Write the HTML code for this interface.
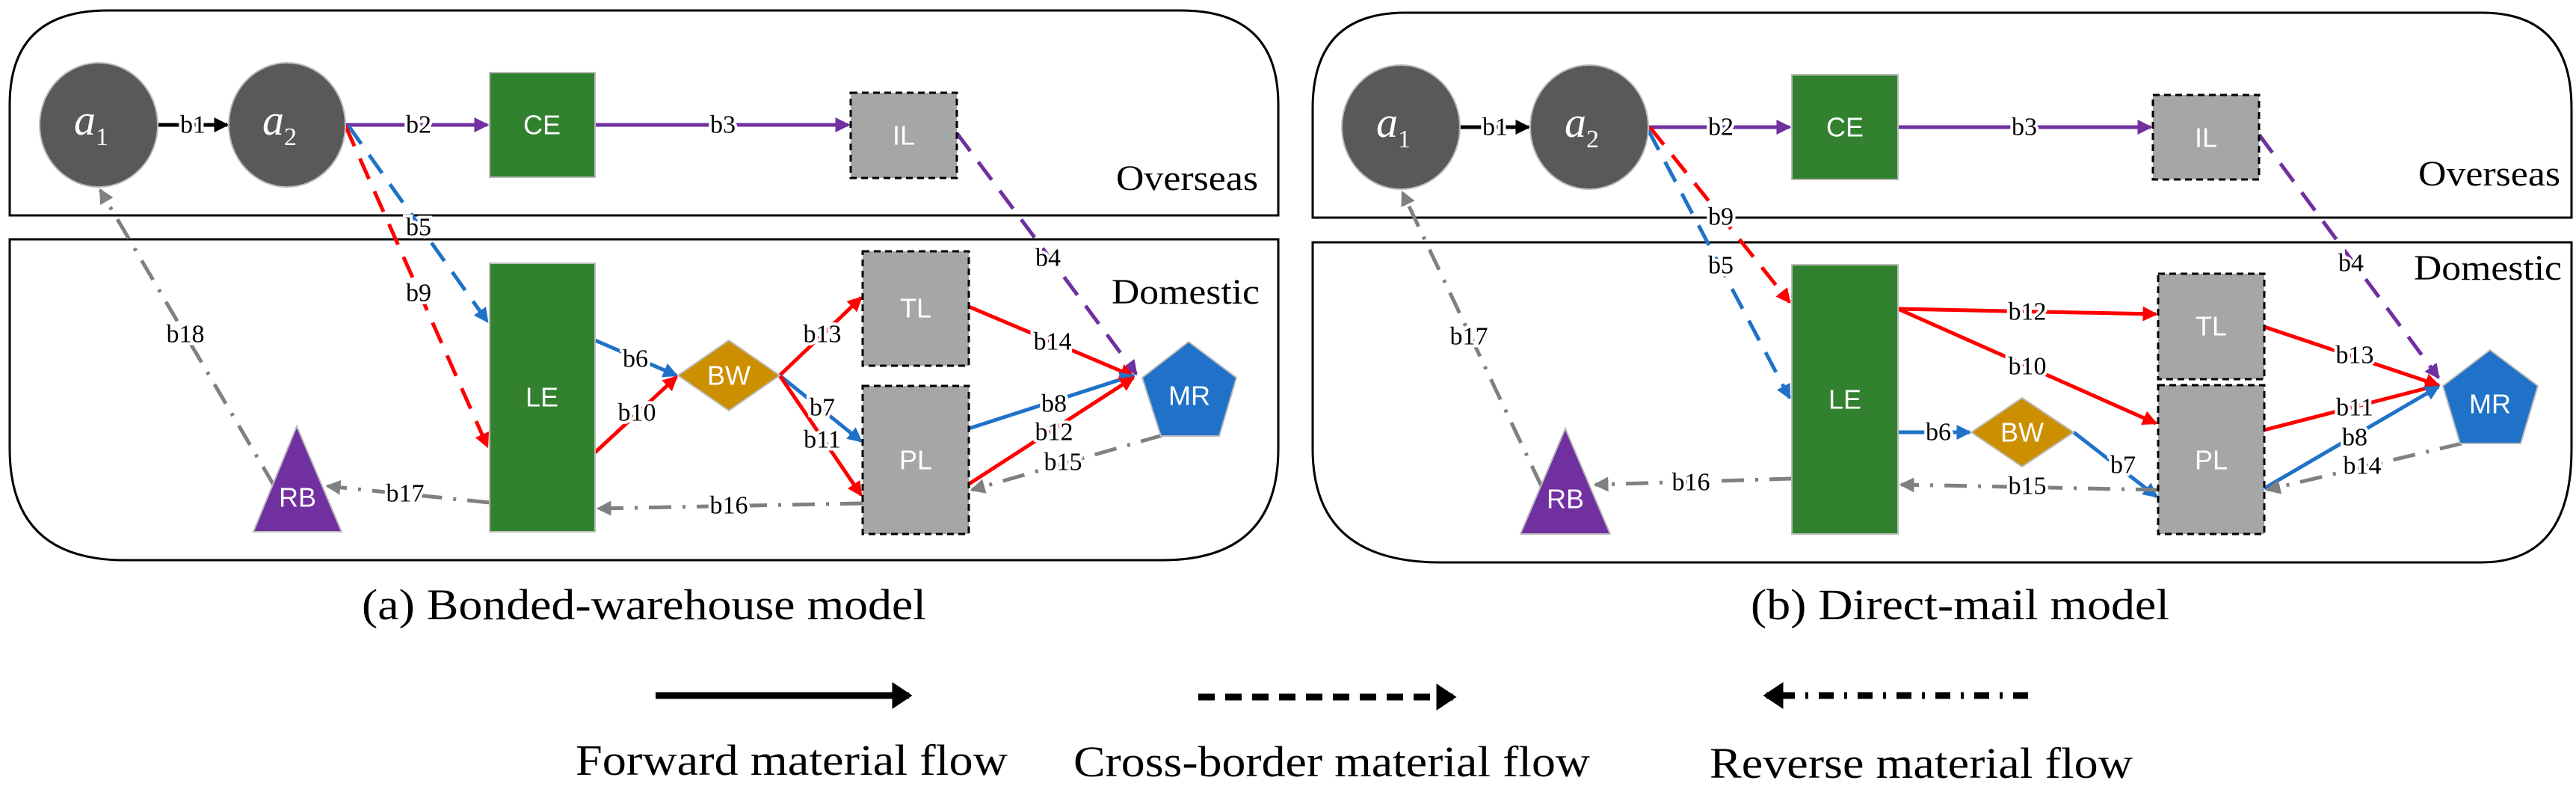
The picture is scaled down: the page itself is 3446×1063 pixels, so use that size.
<!DOCTYPE html>
<html><head><meta charset="utf-8"><style>
html,body{margin:0;padding:0;background:#fff}
svg{display:block}
.el{font-family:"Liberation Serif",serif;font-size:34px;fill:#000;stroke:#fff;stroke-width:8px;paint-order:stroke;text-anchor:middle;dominant-baseline:central}
.nl{font-family:"Liberation Sans",sans-serif;fill:#fff;text-anchor:middle;dominant-baseline:central;font-size:36px}
.big{font-family:"Liberation Serif",serif;font-size:48px;fill:#000}
.cap{font-family:"Liberation Serif",serif;font-size:58px;fill:#000}
</style></head><body>
<svg width="3446" height="1063" viewBox="0 0 3446 1063" xmlns="http://www.w3.org/2000/svg">
<defs>
<marker id="mk" markerWidth="4" markerHeight="4" refX="3.5" refY="2" orient="auto"><path d="M0,0 L4,2 L0,4 Z" fill="#000"/></marker>
<marker id="mk2" markerWidth="3" markerHeight="4" refX="2.5" refY="2" orient="auto"><path d="M0,0 L3,2 L0,4 Z" fill="#000"/></marker>
<marker id="mp" markerWidth="4" markerHeight="4" refX="3.5" refY="2" orient="auto"><path d="M0,0 L4,2 L0,4 Z" fill="#7030a0"/></marker>
<marker id="mr" markerWidth="4" markerHeight="4" refX="3.5" refY="2" orient="auto"><path d="M0,0 L4,2 L0,4 Z" fill="#ff0000"/></marker>
<marker id="mb" markerWidth="4" markerHeight="4" refX="3.5" refY="2" orient="auto"><path d="M0,0 L4,2 L0,4 Z" fill="#1f72c8"/></marker>
<marker id="mg" markerWidth="4" markerHeight="4" refX="3.5" refY="2" orient="auto"><path d="M0,0 L4,2 L0,4 Z" fill="#808080"/></marker>
</defs>

<!-- ===== LEFT PANEL ===== -->
<path d="M13,288 L13,140 Q13,14 144,14 L1580,14 Q1710,14 1710,140 L1710,288 Z" fill="none" stroke="#000" stroke-width="3"/>
<path d="M13,320 L1710,320 L1710,600 Q1710,749 1555,749 L167,749 Q13,749 13,600 Z" fill="none" stroke="#000" stroke-width="3"/>
<text class="big" x="1493" y="254" textLength="190" lengthAdjust="spacingAndGlyphs">Overseas</text>
<text class="big" x="1487" y="406" textLength="198" lengthAdjust="spacingAndGlyphs">Domestic</text>

<g fill="none" stroke-width="5">
<line x1="211" y1="167" x2="304" y2="167" stroke="#000" marker-end="url(#mk)"/>
<line x1="462" y1="167" x2="652" y2="167" stroke="#7030a0" marker-end="url(#mp)"/>
<line x1="796" y1="167" x2="1135" y2="167" stroke="#7030a0" marker-end="url(#mp)"/>
<line x1="1280" y1="178" x2="1520" y2="500" stroke="#7030a0" stroke-dasharray="30,18" marker-end="url(#mp)"/>
<line x1="466" y1="168" x2="652" y2="430" stroke="#1f72c8" stroke-dasharray="30,18" marker-end="url(#mb)"/>
<line x1="462" y1="168" x2="652" y2="597" stroke="#ff0000" stroke-dasharray="30,18" marker-end="url(#mr)"/>
<line x1="796" y1="455" x2="905" y2="502" stroke="#1f72c8" marker-end="url(#mb)"/>
<line x1="796" y1="605" x2="905" y2="504" stroke="#ff0000" marker-end="url(#mr)"/>
<line x1="1043" y1="502" x2="1152" y2="398" stroke="#ff0000" marker-end="url(#mr)"/>
<line x1="1043" y1="502" x2="1152" y2="590" stroke="#1f72c8" marker-end="url(#mb)"/>
<line x1="1043" y1="502" x2="1152" y2="662" stroke="#ff0000" marker-end="url(#mr)"/>
<line x1="1296" y1="410" x2="1516" y2="503" stroke="#ff0000" marker-end="url(#mr)"/>
<line x1="1296" y1="573" x2="1516" y2="502" stroke="#1f72c8" marker-end="url(#mb)"/>
<line x1="1284" y1="655" x2="1516" y2="505" stroke="#ff0000" marker-end="url(#mr)"/>
<line x1="1555" y1="582" x2="1300" y2="655" stroke="#808080" stroke-dasharray="30,15,4,15" marker-end="url(#mg)"/>
<line x1="1154" y1="673" x2="800" y2="680" stroke="#808080" stroke-dasharray="30,15,4,15" marker-end="url(#mg)"/>
<line x1="655" y1="672" x2="438" y2="650" stroke="#808080" stroke-dasharray="30,15,4,15" marker-end="url(#mg)"/>
<line x1="367" y1="650" x2="134" y2="254" stroke="#808080" stroke-dasharray="30,15,4,15" marker-end="url(#mg)"/>
</g>

<ellipse cx="132" cy="167" rx="79" ry="83" fill="#595959" stroke="#bbb" stroke-width="2"/>
<ellipse cx="384" cy="167" rx="78" ry="83" fill="#595959" stroke="#bbb" stroke-width="2"/>
<text x="122" y="180" font-family="Liberation Serif,serif" font-style="italic" font-size="58" fill="#fff" text-anchor="middle">a<tspan font-size="34" font-style="normal" dy="14">1</tspan></text>
<text x="374" y="180" font-family="Liberation Serif,serif" font-style="italic" font-size="58" fill="#fff" text-anchor="middle">a<tspan font-size="34" font-style="normal" dy="14">2</tspan></text>
<rect x="655" y="97" width="141" height="140" fill="#31812e" stroke="#bbb" stroke-width="2"/>
<text class="nl" x="725" y="167">CE</text>
<rect x="1138" y="124" width="142" height="114" fill="#a6a6a6" stroke="#000" stroke-width="3" stroke-dasharray="9,6"/>
<text class="nl" x="1209" y="181">IL</text>
<rect x="655" y="352" width="141" height="359" fill="#31812e" stroke="#bbb" stroke-width="2"/>
<text class="nl" x="725" y="531">LE</text>
<polygon points="975,455 1043,502 975,549 907,502" fill="#cc8f00" stroke="#bbb" stroke-width="2"/>
<text class="nl" x="975" y="502" font-size="28">BW</text>
<rect x="1154" y="336" width="142" height="153" fill="#a6a6a6" stroke="#000" stroke-width="3" stroke-dasharray="9,6"/>
<text class="nl" x="1225" y="412">TL</text>
<rect x="1154" y="516" width="142" height="198" fill="#a6a6a6" stroke="#000" stroke-width="3" stroke-dasharray="9,6"/>
<text class="nl" x="1225" y="615">PL</text>
<polygon points="1590,457 1654,505 1631,583 1553,583 1528,505" fill="#1f72c8" stroke="#bbb" stroke-width="2"/>
<text class="nl" x="1591" y="529">MR</text>
<polygon points="397,570 457,711 339,711" fill="#7030a0" stroke="#bbb" stroke-width="2"/>
<text class="nl" x="398" y="665" font-size="32">RB</text>

<text class="el" x="258" y="167">b1</text>
<text class="el" x="560" y="167">b2</text>
<text class="el" x="967" y="167">b3</text>
<text class="el" x="1402" y="345">b4</text>
<text class="el" x="560" y="304">b5</text>
<text class="el" x="560" y="392">b9</text>
<text class="el" x="850" y="480">b6</text>
<text class="el" x="852" y="552">b10</text>
<text class="el" x="1100" y="447">b13</text>
<text class="el" x="1100" y="545">b7</text>
<text class="el" x="1100" y="588">b11</text>
<text class="el" x="1408" y="457">b14</text>
<text class="el" x="1410" y="540">b8</text>
<text class="el" x="1410" y="578">b12</text>
<text class="el" x="1422" y="618">b15</text>
<text class="el" x="975" y="676">b16</text>
<text class="el" x="542" y="660">b17</text>
<text class="el" x="248" y="447">b18</text>

<!-- ===== RIGHT PANEL ===== -->
<path d="M1756,291 L1756,145 Q1756,17 1880,17 L3320,17 Q3440,17 3440,145 L3440,291 Z" fill="none" stroke="#000" stroke-width="3"/>
<path d="M1756,324 L3440,324 L3440,600 Q3440,752 3319,752 L1927,752 Q1756,752 1756,600 Z" fill="none" stroke="#000" stroke-width="3"/>
<text class="big" x="3235" y="248" textLength="190" lengthAdjust="spacingAndGlyphs">Overseas</text>
<text class="big" x="3229" y="374" textLength="198" lengthAdjust="spacingAndGlyphs">Domestic</text>

<g fill="none" stroke-width="5">
<line x1="1953" y1="170" x2="2045" y2="170" stroke="#000" marker-end="url(#mk)"/>
<line x1="2205" y1="170" x2="2394" y2="170" stroke="#7030a0" marker-end="url(#mp)"/>
<line x1="2539" y1="170" x2="2877" y2="170" stroke="#7030a0" marker-end="url(#mp)"/>
<line x1="3022" y1="180" x2="3262" y2="505" stroke="#7030a0" stroke-dasharray="30,18" marker-end="url(#mp)"/>
<line x1="2207" y1="170" x2="2394" y2="404" stroke="#ff0000" stroke-dasharray="30,18" marker-end="url(#mr)"/>
<line x1="2205" y1="174" x2="2394" y2="532" stroke="#1f72c8" stroke-dasharray="30,18" marker-end="url(#mb)"/>
<line x1="2539" y1="413" x2="2884" y2="420" stroke="#ff0000" marker-end="url(#mr)"/>
<line x1="2539" y1="413" x2="2884" y2="566" stroke="#ff0000" marker-end="url(#mr)"/>
<line x1="3029" y1="437" x2="3262" y2="515" stroke="#ff0000" marker-end="url(#mr)"/>
<line x1="3029" y1="575" x2="3262" y2="515" stroke="#ff0000" marker-end="url(#mr)"/>
<line x1="3029" y1="653" x2="3262" y2="517" stroke="#1f72c8" marker-end="url(#mb)"/>
<line x1="2539" y1="578" x2="2635" y2="578" stroke="#1f72c8" marker-end="url(#mb)"/>
<line x1="2774" y1="578" x2="2885" y2="664" stroke="#1f72c8" marker-end="url(#mb)"/>
<line x1="3293" y1="593" x2="3033" y2="655" stroke="#808080" stroke-dasharray="30,15,4,15" marker-end="url(#mg)"/>
<line x1="2887" y1="655" x2="2543" y2="648" stroke="#808080" stroke-dasharray="30,15,4,15" marker-end="url(#mg)"/>
<line x1="2397" y1="640" x2="2134" y2="648" stroke="#808080" stroke-dasharray="30,15,4,15" marker-end="url(#mg)"/>
<line x1="2062" y1="650" x2="1876" y2="257" stroke="#808080" stroke-dasharray="30,15,4,15" marker-end="url(#mg)"/>
</g>

<ellipse cx="1874" cy="170" rx="79" ry="83" fill="#595959" stroke="#bbb" stroke-width="2"/>
<ellipse cx="2126" cy="170" rx="79" ry="83" fill="#595959" stroke="#bbb" stroke-width="2"/>
<text x="1864" y="183" font-family="Liberation Serif,serif" font-style="italic" font-size="58" fill="#fff" text-anchor="middle">a<tspan font-size="34" font-style="normal" dy="14">1</tspan></text>
<text x="2116" y="183" font-family="Liberation Serif,serif" font-style="italic" font-size="58" fill="#fff" text-anchor="middle">a<tspan font-size="34" font-style="normal" dy="14">2</tspan></text>
<rect x="2397" y="100" width="142" height="140" fill="#31812e" stroke="#bbb" stroke-width="2"/>
<text class="nl" x="2468" y="170">CE</text>
<rect x="2880" y="127" width="142" height="113" fill="#a6a6a6" stroke="#000" stroke-width="3" stroke-dasharray="9,6"/>
<text class="nl" x="2951" y="184">IL</text>
<rect x="2397" y="354" width="142" height="360" fill="#31812e" stroke="#bbb" stroke-width="2"/>
<text class="nl" x="2468" y="534">LE</text>
<polygon points="2705,532 2774,578 2705,624 2637,578" fill="#cc8f00" stroke="#bbb" stroke-width="2"/>
<text class="nl" x="2705" y="578" font-size="28">BW</text>
<rect x="2887" y="366" width="142" height="141" fill="#a6a6a6" stroke="#000" stroke-width="3" stroke-dasharray="9,6"/>
<text class="nl" x="2958" y="436">TL</text>
<rect x="2887" y="515" width="142" height="199" fill="#a6a6a6" stroke="#000" stroke-width="3" stroke-dasharray="9,6"/>
<text class="nl" x="2958" y="615">PL</text>
<polygon points="3331,468 3395,516 3372,593 3291,593 3268,516" fill="#1f72c8" stroke="#bbb" stroke-width="2"/>
<text class="nl" x="3331" y="540">MR</text>
<polygon points="2094,573 2154,714 2034,714" fill="#7030a0" stroke="#bbb" stroke-width="2"/>
<text class="nl" x="2094" y="667" font-size="32">RB</text>

<text class="el" x="2000" y="170">b1</text>
<text class="el" x="2302" y="170">b2</text>
<text class="el" x="2708" y="170">b3</text>
<text class="el" x="3145" y="352">b4</text>
<text class="el" x="2302" y="290">b9</text>
<text class="el" x="2302" y="355">b5</text>
<text class="el" x="2712" y="417">b12</text>
<text class="el" x="2712" y="490">b10</text>
<text class="el" x="3150" y="475">b13</text>
<text class="el" x="3150" y="545">b11</text>
<text class="el" x="3150" y="585">b8</text>
<text class="el" x="2593" y="578">b6</text>
<text class="el" x="2840" y="622">b7</text>
<text class="el" x="3160" y="623">b14</text>
<text class="el" x="2712" y="650">b15</text>
<text class="el" x="2262" y="645">b16</text>
<text class="el" x="1965" y="450">b17</text>

<!-- captions -->
<text class="cap" x="484" y="828" textLength="755" lengthAdjust="spacingAndGlyphs">(a) Bonded-warehouse model</text>
<text class="cap" x="2342" y="828" textLength="560" lengthAdjust="spacingAndGlyphs">(b) Direct-mail model</text>

<!-- legend -->
<g fill="none" stroke="#000" stroke-width="9">
<line x1="877" y1="930" x2="1216" y2="930" marker-end="url(#mk2)"/>
<line x1="1603" y1="932" x2="1944" y2="932" stroke-dasharray="22,14" marker-end="url(#mk2)"/>
<line x1="2713" y1="930" x2="2363" y2="930" stroke-dasharray="20,14,4,14" marker-end="url(#mk2)"/>
</g>
<text class="cap" x="770" y="1036" font-size="56" textLength="578" lengthAdjust="spacingAndGlyphs">Forward material flow</text>
<text class="cap" x="1436" y="1038" font-size="56" textLength="691" lengthAdjust="spacingAndGlyphs">Cross-border material flow</text>
<text class="cap" x="2287" y="1040" font-size="56" textLength="566" lengthAdjust="spacingAndGlyphs">Reverse material flow</text>
</svg>
</body></html>
